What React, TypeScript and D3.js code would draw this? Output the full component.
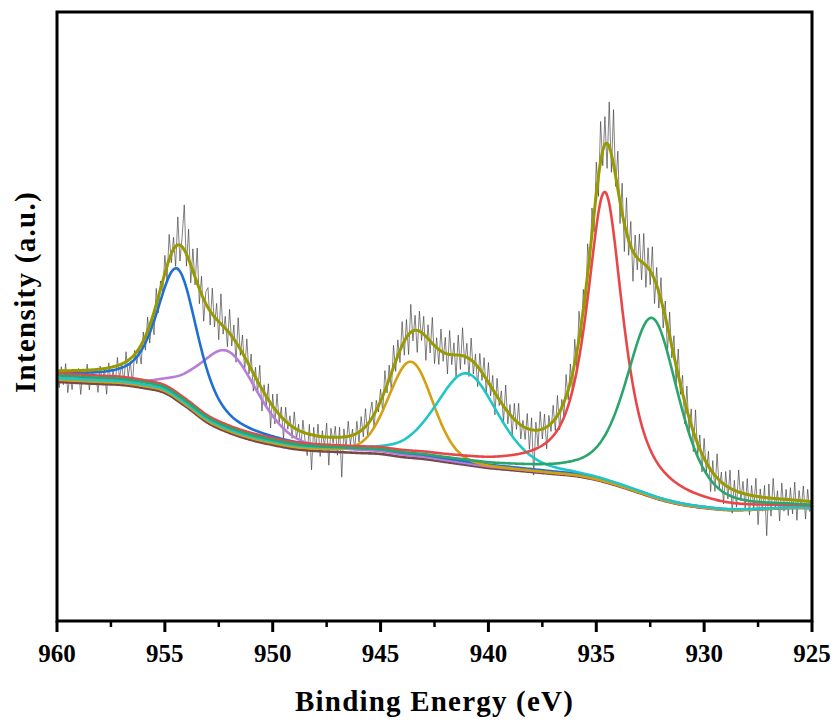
import React from "react";
import * as d3 from "d3";

const W = 837;
const H = 722;

// axis ticks
const majorTicks = [960, 955, 950, 945, 940, 935, 930, 925];
const minorTicks = [957.5, 952.5, 947.5, 942.5, 937.5, 932.5, 927.5];

// Shirley-type background read at 1 eV steps, 960 -> 925 eV
const bgEnergies = d3.range(960, 924, -1);
const bgValues = [
  239, 238, 237, 236, 233, 228, 214, 198, 188, 181,
  176, 172, 170, 169, 168, 167, 164, 162, 159, 156,
  153, 151, 149, 147, 145, 141, 135, 128, 121, 116,
  113, 111, 111, 112, 113, 113,
];
// small offset of the fitted curves above the background at the two ends (960 eV, 925 eV)
const fitLiftEnds = [7, 0];

// fitted components (pseudo-Voigt): centre (eV), height, FWHM (eV), Lorentz fraction
const peakCenters = [934.6, 932.4, 954.4, 952.1, 943.6, 941.0];
const peakHeights = [288, 178, 126, 79, 95, 90];
const peakFwhm = [2.0, 2.9, 2.2, 3.3, 2.4, 3.4];
const peakEta = [0.8, 0.5, 0.5, 0.3, 0.15, 0.35];
const peakLiftShare = [1.2, 0.9, 1, 0.4, 0.3, 0.5];
const peakColors = ["#e8474a", "#2aa56e", "#2070d2", "#b57ed8", "#d4a010", "#1fc6c8"];

// raw spectrum: residual of each measured point from the envelope, 0.1 eV steps 960 -> 925
const rawResidual = [
  -4, -17, 4, -14, 7, -22, -5, -19, 0, -12,
  2, -24, -2, -11, 6, -20, 1, -15, -6, -23,
  3, -13, -1, -26, 5, -16, -4, -18, 8, -14,
  1, -21, 10, -17, -3, -28, 4, -12, 0, -19,
  9, -14, 14, -18, 0, -23, 16, -16, 8, -12,
  18, -14, 25, -9, 12, -20, 28, -16, 10, 45,
  -12, 30, -18, 22, -8, 35, -15, 18, -22, 12,
  20, -14, 26, -10, 16, -18, 30, -8, 12, -16,
  24, -10, 14, -20, 28, -6, 18, -14, 22, -9,
  15, -18, 10, -12, 20, -22, 8, -10, 16, -25,
  12, -15, 18, -8, 10, -20, 14, -6, 9, -12,
  16, -10, 6, -18, 12, -8, -22, 10, -35, 8,
  -14, 12, -20, 6, -10, 14, -28, 9, -6, 11,
  -18, 10, -40, 8, -12, 15, -9, 6, -16, 12,
  -10, 14, -8, 18, -12, 6, 16, -14, 10, -6,
  12, -16, 20, -8, 14, -18, 22, -10, 16, -12,
  24, -14, 18, -20, 28, -10, 15, -22, 20, -8,
  18, -24, 14, -12, 26, -18, 10, -15, 22, -9,
  16, -20, 24, -10, 12, -22, 20, -14, 28, -8,
  14, -18, 22, -12, 10, -20, 16, -8, 18, -15,
  20, -10, 14, -22, 18, -6, 12, -16, 24, -12,
  10, -18, 16, -8, 20, -14, 6, -12, 15, -20,
  12, -45, 8, -16, 18, -10, 14, -22, 10, -8,
  16, -12, 20, -18, 8, -14, 22, -10, 18, -20,
  24, -16, 28, -12, 20, -22, 30, -14, 26, -18,
  32, -20, 40, -15, 28, -25, 45, -18, 55, -10,
  38, -22, 30, -28, 35, -15, 25, -30, 20, -12,
  26, -18, 30, -22, 20, -14, 28, -24, 18, -16,
  22, -20, 16, -26, 24, -12, 20, -18, 26, -10,
  18, -22, 24, -14, 16, -20, 28, -12, 14, -18,
  20, -10, 15, -22, 12, -16, 24, -8, 10, -20,
  14, -12, 18, -24, 10, -16, 22, -8, 12, -14,
  16, -20, 10, -12, 18, -28, 8, -14, 12, -38,
  14, -18, 20, -10, 8, -22, 16, -12, 10, -16,
  12, -14, 18, -20, 10, -8, 15, -18, 12, -10,
  6,
];

const FONT = "'Liberation Serif', 'Times New Roman', serif";

const liftScale = d3.scaleLinear().domain([960, 925]).range(fitLiftEnds);

function bgAt(E: number): number {
  const n = bgValues.length;
  const t = bgEnergies[0] - E;
  let i = Math.floor(t);
  if (i < 0) i = 0;
  if (i > n - 2) i = n - 2;
  const u = t - i;
  const p0 = bgValues[Math.max(i - 1, 0)];
  const p1 = bgValues[i];
  const p2 = bgValues[i + 1];
  const p3 = bgValues[Math.min(i + 2, n - 1)];
  const m1 = (p2 - p0) / 2;
  const m2 = (p3 - p1) / 2;
  const u2 = u * u;
  const u3 = u2 * u;
  return (2 * u3 - 3 * u2 + 1) * p1 + (u3 - 2 * u2 + u) * m1 + (-2 * u3 + 3 * u2) * p2 + (u3 - u2) * m2;
}

function peakAt(k: number, E: number): number {
  const d = (E - peakCenters[k]) / peakFwhm[k];
  const L = 1 / (1 + 4 * d * d);
  const G = Math.exp(-4 * Math.LN2 * d * d);
  return peakHeights[k] * (peakEta[k] * L + (1 - peakEta[k]) * G);
}

function envelopeAt(E: number): number {
  let s = bgAt(E) + liftScale(E);
  for (let k = 0; k < peakCenters.length; k++) s += peakAt(k, E);
  return s;
}

export default function App() {
  const x = d3.scaleLinear().domain([960, 925]).range([57, 812]);
  const y = d3.scaleLinear().domain([0, 609]).range([621, 12]);

  const grid = d3.range(0, 701).map((i) => 960 - i * 0.05);
  const line = d3
    .line<[number, number]>()
    .x((d) => x(d[0]))
    .y((d) => y(d[1]));

  const rawPts: [number, number][] = rawResidual.map((r, i) => {
    const E = 960 - i * 0.1;
    return [E, envelopeAt(E) + r];
  });
  const bgPts: [number, number][] = grid.map((E) => [E, bgAt(E)]);
  const compPaths = peakCenters.map((_, k) =>
    line(grid.map((E) => [E, bgAt(E) + liftScale(E) * peakLiftShare[k] + peakAt(k, E)] as [number, number]))
  );
  const envPts: [number, number][] = grid.map((E) => [E, envelopeAt(E)]);

  const drawOrder = [3, 2, 4, 5, 0, 1];
  const yBottom = 621;

  return (
    <svg
      width={W}
      height={H}
      style={{ position: "absolute", left: 0, top: 0, background: "#fff" }}
    >
      <defs>
        <clipPath id="plotClip">
          <rect x={57} y={12} width={755} height={609} />
        </clipPath>
      </defs>
      <g clipPath="url(#plotClip)">
        <path d={line(rawPts) || ""} fill="none" stroke="#3a3a3a" strokeWidth={0.8} strokeOpacity={0.8} />
        <path d={line(bgPts) || ""} fill="none" stroke="#7a4848" strokeWidth={2.6} />
        {drawOrder.map((k) => (
          <path key={k} d={compPaths[k] || ""} fill="none" stroke={peakColors[k]} strokeWidth={2.6} />
        ))}
        <path d={line(envPts) || ""} fill="none" stroke="#999900" strokeWidth={3} />
      </g>
      {/* frame */}
      <rect x={57} y={12} width={755} height={609} fill="none" stroke="#000" strokeWidth={3} />
      {/* ticks */}
      {majorTicks.map((t) => (
        <line key={"M" + t} x1={x(t)} x2={x(t)} y1={yBottom} y2={yBottom + 11} stroke="#000" strokeWidth={3} />
      ))}
      {minorTicks.map((t) => (
        <line key={"m" + t} x1={x(t)} x2={x(t)} y1={yBottom} y2={yBottom + 6} stroke="#000" strokeWidth={2.5} />
      ))}
      {majorTicks.map((t) => (
        <text
          key={"L" + t}
          x={x(t)}
          y={662}
          textAnchor="middle"
          fontFamily={FONT}
          fontWeight="bold"
          fontSize={25}
          fill="#000"
        >
          {t}
        </text>
      ))}
      <text
        x={434.5}
        y={711}
        textAnchor="middle"
        fontFamily={FONT}
        fontWeight="bold"
        fontSize={29}
        letterSpacing={1.2}
        fill="#000"
      >
        Binding Energy (eV)
      </text>
      <text
        transform="translate(35,292) rotate(-90)"
        textAnchor="middle"
        fontFamily={FONT}
        fontWeight="bold"
        fontSize={29}
        letterSpacing={1.3}
        fill="#000"
      >
        Intensity (a.u.)
      </text>
    </svg>
  );
}
